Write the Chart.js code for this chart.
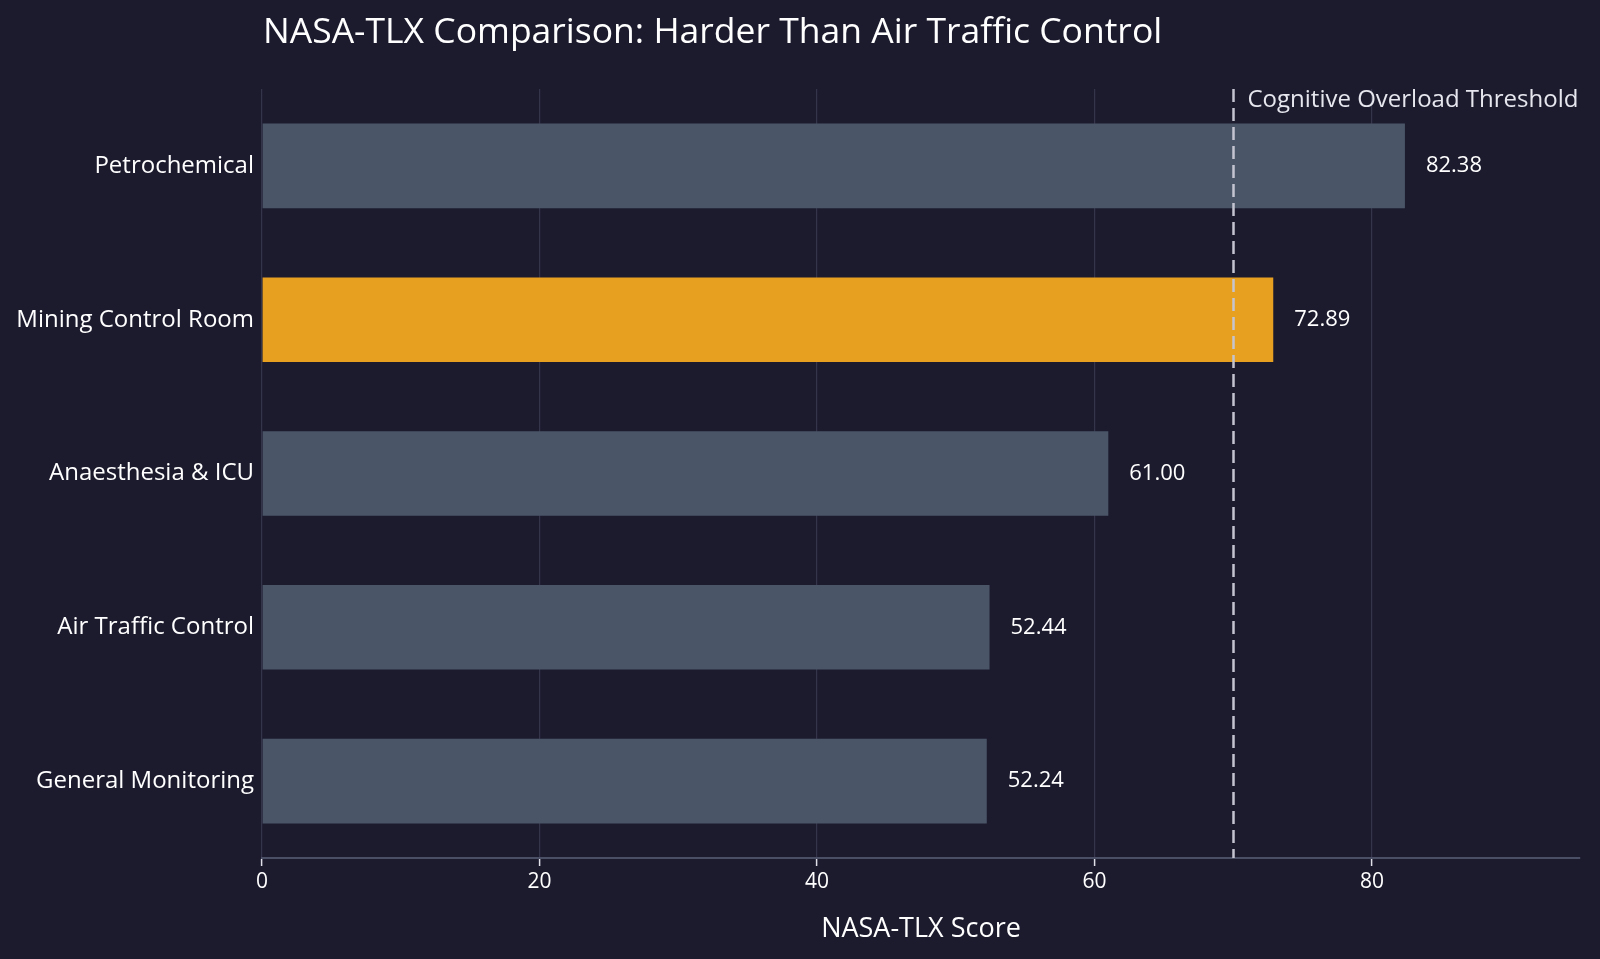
<!DOCTYPE html>
<html>
<head>
<meta charset="utf-8">
<script src="https://cdn.jsdelivr.net/npm/chart.js@4.4.1/dist/chart.umd.min.js"></script>
<style>
  html, body { margin: 0; padding: 0; background: #1c1b2e; }
  #wrap { width: 1600px; height: 959px; position: relative; }
</style>
</head>
<body>
<div id="wrap"><canvas id="c" width="1600" height="959"></canvas></div>
<script>
const categories = ["Petrochemical", "Mining Control Room", "Anaesthesia & ICU", "Air Traffic Control", "General Monitoring"];
const scores = [82.38, 72.89, 61.00, 52.44, 52.24];
const highlightCategory = "Mining Control Room";
const thresholdValue = 70;
const thresholdLabel = "Cognitive Overload Threshold";
const xTickValues = [0, 20, 40, 60, 80];
const xMax = 95;
const chartTitle = "NASA-TLX Comparison: Harder Than Air Traffic Control";
const xAxisTitle = "NASA-TLX Score";

const FONT = "'Open Sans', sans-serif";
const barColors = categories.map(c => c === highlightCategory ? "#e8a020" : "#4a5668");

const overlayPlugin = {
  id: "overlay",
  afterDatasetsDraw(chart) {
    const ctx = chart.ctx;
    const x = chart.scales.x;
    const area = chart.chartArea;
    const meta = chart.getDatasetMeta(0);
    ctx.save();
    // value labels
    ctx.fillStyle = "#ffffff";
    ctx.font = "22px " + FONT;
    ctx.textAlign = "left";
    ctx.textBaseline = "middle";
    meta.data.forEach((bar, i) => {
      ctx.fillText(scores[i].toFixed(2), bar.x + 21, bar.y);
    });
    // threshold line
    const tx = Math.round(x.getPixelForValue(thresholdValue)) + 0.5;
    ctx.strokeStyle = "#c4c4d0";
    ctx.lineWidth = 2.5;
    ctx.setLineDash([13, 6]);
    ctx.beginPath();
    ctx.moveTo(tx, area.top);
    ctx.lineTo(tx, area.bottom);
    ctx.stroke();
    ctx.setLineDash([]);
    ctx.fillStyle = "#e6e6ee";
    ctx.font = "24px " + FONT;
    ctx.textBaseline = "middle";
    ctx.fillText(thresholdLabel, tx + 14, area.top + 11);
    // title
    ctx.fillStyle = "#ffffff";
    ctx.font = "35.5px " + FONT;
    ctx.textBaseline = "middle";
    ctx.fillText(chartTitle, area.left + 1, 33);
    ctx.restore();
  }
};

new Chart(document.getElementById("c"), {
  type: "bar",
  data: {
    labels: categories,
    datasets: [{
      data: scores,
      backgroundColor: barColors,
      borderWidth: 0,
      barPercentage: 0.55,
      categoryPercentage: 1.0
    }]
  },
  options: {
    indexAxis: "y",
    responsive: false,
    animation: false,
    devicePixelRatio: 1,
    layout: { padding: { top: 89, right: 20, bottom: 9, left: 0 } },
    plugins: { legend: { display: false }, tooltip: { enabled: false }, title: { display: false } },
    scales: {
      x: {
        min: 0,
        max: xMax,
        afterBuildTicks(scale) { scale.ticks = xTickValues.map(v => ({ value: v })); },
        afterFit(scale) { scale.height = 92; },
        grid: {
          color: "#34354a",
          lineWidth: 1.2,
          drawTicks: true,
          tickLength: 8,
          tickColor: "#e0e0e8",
          tickWidth: 1.5
        },
        border: { display: true, color: "#4a4f66", width: 2 },
        ticks: { color: "#ffffff", font: { family: FONT, size: 21 }, padding: 3, maxRotation: 0 },
        title: { display: true, text: xAxisTitle, color: "#ffffff", font: { family: FONT, size: 27 } }
      },
      y: {
        afterFit(scale) { scale.width = 262; },
        grid: { display: false, drawTicks: false },
        border: { display: false },
        ticks: { color: "#ffffff", font: { family: FONT, size: 24 }, padding: 8 }
      }
    }
  },
  plugins: [overlayPlugin]
});
</script>
</body>
</html>
